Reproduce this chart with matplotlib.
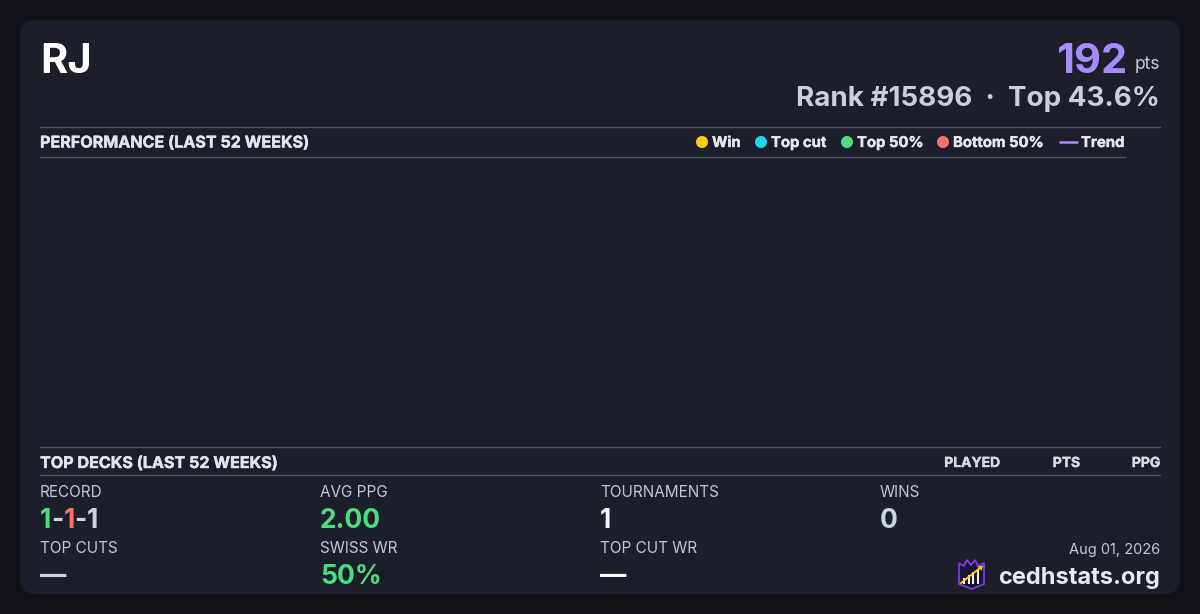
import matplotlib
matplotlib.use("Agg")
from matplotlib import pyplot as plt
from matplotlib import patheffects as pe
from matplotlib.patches import FancyBboxPatch, Circle, Polygon, Rectangle

plt.rcParams['font.family'] = ['Inter', 'DejaVu Sans']

# data
player_name = "RJ"
points = 192
rank = 15896
top_pct = 43.6
legend_labels = ["Win", "Top cut", "Top 50%", "Bottom 50%"]
legend_colors = ["#facc15", "#22d3ee", "#4ade80", "#f87171"]
trend_label = "Trend"
deck_cols = ["PLAYED", "PTS", "PPG"]
record = [1, 1, 1]
stat_labels = ["RECORD", "AVG PPG", "TOURNAMENTS", "WINS", "TOP CUTS", "SWISS WR", "TOP CUT WR"]
stat_values = [None, "2.00", "1", "0", "\u2014", "50%", "\u2014"]
stat_colors = [None, "#4ade80", "#f1f5f9", "#cbd5e1", "#cbd5e1", "#4ade80", "#f8fafc"]
date_str = "Aug 01, 2026"
site = "cedhstats.org"

BG = "#111218"
CARD = "#1c1e2a"
RULE = "#4a5569"
PURPLE = "#a78bfa"


def heavy(color, w=0.3):
    # thicken text a bit, the installed Inter bold is lighter than the original
    return [pe.withStroke(linewidth=w, foreground=color)]


fig = plt.figure(figsize=(12, 6.14), dpi=100, facecolor=BG)
ax = fig.add_axes([0, 0, 1, 1])
ax.set_xlim(0, 1200)
ax.set_ylim(614, 0)
ax.axis('off')
ax.set_facecolor(BG)

card = FancyBboxPatch((36, 36), 1128, 542, boxstyle="round,pad=16,rounding_size=16",
                      fc=CARD, ec="none")
ax.add_patch(card)

# header
ax.text(40, 73, player_name, color="#ffffff", fontsize=30, fontweight='bold', va='baseline')
ax.text(1160, 69, "pts", color="#c8ccd6", fontsize=12.5, ha='right', va='baseline')
ax.text(1127, 73, str(points), color=PURPLE, fontsize=30, fontweight='bold', ha='right', va='baseline')
ax.text(1160, 106, "Rank #%d  \u00b7  Top %.1f%%" % (rank, top_pct), color="#c9cfdb",
        fontsize=20, fontweight='bold', ha='right', va='baseline')

# performance section
ax.plot([40, 1160], [126.5, 126.5], color=RULE, lw=1)
ax.plot([40, 1125], [156.5, 156.5], color=RULE, lw=1)
ax.text(40, 147.5, "PERFORMANCE (LAST 52 WEEKS)", color="#e2e5ec", fontsize=11.6,
        fontweight='bold', va='baseline', path_effects=heavy("#e2e5ec"))

leg_x = [702, 761, 847, 943]
for x, lab, col in zip(leg_x, legend_labels, legend_colors):
    ax.add_patch(Circle((x, 142), 6, fc=col, ec="none"))
    ax.text(x + 10, 147, lab, color="#e5e7eb", fontsize=10.7, fontweight='bold', va='baseline',
            path_effects=heavy("#e5e7eb"))
ax.plot([1059, 1078], [142, 142], color=PURPLE, lw=1.8, solid_capstyle='butt')
ax.text(1081, 147, trend_label, color="#e5e7eb", fontsize=10.7, fontweight='bold', va='baseline',
        path_effects=heavy("#e5e7eb"))

# top decks section
ax.plot([40, 1160], [446.5, 446.5], color=RULE, lw=1)
ax.plot([40, 1160], [474.5, 474.5], color=RULE, lw=1)
ax.text(40, 468, "TOP DECKS (LAST 52 WEEKS)", color="#e2e5ec", fontsize=11.6,
        fontweight='bold', va='baseline', path_effects=heavy("#e2e5ec"))
for x, col in zip([1000, 1080, 1160], deck_cols):
    ax.text(x, 467, col, color="#d5d9e2", fontsize=10, fontweight='bold', ha='right', va='baseline',
            path_effects=heavy("#d5d9e2"))

# stats grid
col_x = [40, 320, 600, 880]
pos = [(0, 0), (1, 0), (2, 0), (3, 0), (0, 1), (1, 1), (2, 1)]
for (c, r), lab, val, vc in zip(pos, stat_labels, stat_values, stat_colors):
    x = col_x[c]
    ax.text(x, 497 + 56 * r, lab, color="#c3c8d2", fontsize=11, va='baseline')
    if val is None:
        continue
    ax.text(x, 528 + 56 * r, val, color=vc, fontsize=19, fontweight='bold', va='baseline')

# record with coloured parts
rec_cols = ["#4ade80", "#f87171", "#cbd5e1"]
x0 = 40
pieces = []
for i, (n, cc) in enumerate(zip(record, rec_cols)):
    pieces.append((str(n), cc))
    if i < len(record) - 1:
        pieces.append(("-", "#cbd5e1"))
fig.canvas.draw()
renderer = fig.canvas.get_renderer()
for s, cc in pieces:
    tx = ax.text(x0, 528, s, color=cc, fontsize=19, fontweight='bold', va='baseline')
    bb = tx.get_window_extent(renderer=renderer)
    x0 += bb.width

# footer
ax.text(1160, 554, date_str, color="#c3c8d2", fontsize=10.5, ha='right', va='baseline')
ax.text(1160, 584, site, color="#e8eaef", fontsize=17, fontweight='bold', ha='right', va='baseline')

# logo
shield = Polygon([(959, 563), (964, 566), (967, 560), (971, 565), (975, 560), (978, 566), (984, 563),
                  (984, 584), (971.5, 589), (959, 584)], closed=True, fc="#1a1530", ec="#7c3aed", lw=1.3)
ax.add_patch(shield)
for bx, bh in zip([963, 967.5, 972, 976.5], [6, 9, 12, 15]):
    ax.add_patch(Rectangle((bx, 584 - bh), 2.4, bh, fc="#f1f1f4", ec="none"))
ax.plot([961, 980], [583, 568], color="#facc15", lw=1.4)
ax.add_patch(Polygon([(983, 565.5), (977.5, 566.5), (981.5, 571)], closed=True, fc="#facc15", ec="none"))

fig.savefig("out.png", dpi=100, facecolor=BG)
